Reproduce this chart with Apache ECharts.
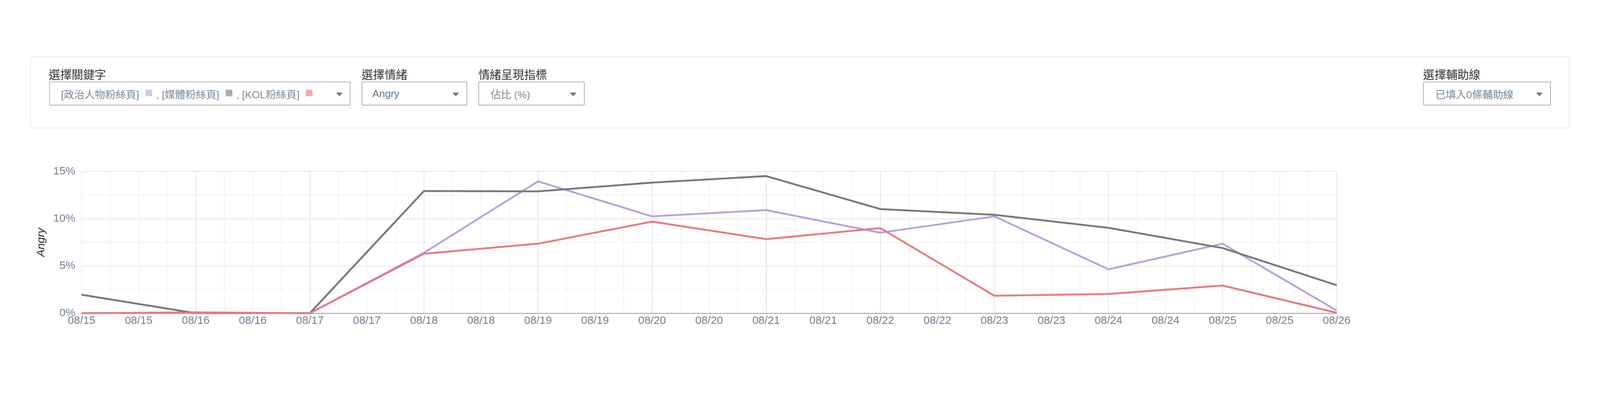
<!DOCTYPE html>
<html>
<head>
<meta charset="utf-8">
<script src="https://cdn.jsdelivr.net/npm/echarts@6/dist/echarts.min.js"></script>
<style>
  html, body { margin:0; padding:0; background:#fff; overflow:hidden; }
  body { font-family: 'Liberation Sans', 'Noto Sans CJK TC', sans-serif; }
  #wrap { position:absolute; left:0; top:0; width:4332px; height:1056px; transform-origin:0 0; }
  #chart { position:absolute; left:0; top:0; width:4332px; height:1056px; }
  #panel { position:absolute; left:81px; top:153px; width:4169px; height:195px; box-sizing:border-box;
           border:2px solid #e3e3e3; border-radius:6px; z-index:2; background:transparent; }
  .lbl { position:absolute; top:188px; font-size:31px; line-height:31px; color:#333; white-space:nowrap; z-index:3; }
  .box { position:absolute; top:221px; height:65px; box-sizing:border-box; border:2px solid #aaa; border-radius:4px;
         display:flex; align-items:center; font-size:28px; color:#7d8b9b; white-space:nowrap; z-index:3; background:#fff; }
  .arrow { position:absolute; top:28px; width:0; height:0; border-left:9px solid transparent; border-right:9px solid transparent;
           border-top:10px solid #6b7a8a; }
  .sq { display:inline-block; width:18px; height:18px; vertical-align:middle; margin:0 11px 0 17px; position:relative; top:-2px; }
</style>
</head>
<body>
<div id="wrap">
<div id="chart"></div>
<div id="panel"></div>

<div class="lbl" style="left:132px;">選擇關鍵字</div>
<div class="box" style="left:133px; width:816px; padding-left:30px;">
  <span>[政治人物粉絲頁]</span><span class="sq" style="background:#d6c6ef"></span><span>, [媒體粉絲頁]</span><span class="sq" style="background:#aaaaaa"></span><span>, [KOL粉絲頁]</span><span class="sq" style="background:#f2aab0"></span>
  <div class="arrow" style="left:775px;"></div>
</div>

<div class="lbl" style="left:979px;">選擇情緒</div>
<div class="box" style="left:979px; width:286px; padding-left:27px; color:#66768a;">
  <span>Angry</span>
  <div class="arrow" style="left:244px;"></div>
</div>

<div class="lbl" style="left:1295px;">情緒呈現指標</div>
<div class="box" style="left:1295px; width:288px; padding-left:31px;">
  <span>佔比 (%)</span>
  <div class="arrow" style="left:246px;"></div>
</div>

<div class="lbl" style="left:3853px;">選擇輔助線</div>
<div class="box" style="left:3853px; width:346px; padding-left:31px;">
  <span>已填入0條輔助線</span>
  <div class="arrow" style="left:304px;"></div>
</div>
</div>

<script>
// ---- data ----
const dates = ['08/15','08/16','08/17','08/18','08/19','08/20','08/21','08/22','08/23','08/24','08/25','08/26'];
const politicianFans = [0, 0.1, 0, 6.4, 13.96, 10.25, 10.92, 8.52, 10.25, 4.65, 7.36, 0.29];
const mediaFans      = [1.95, 0, 0, 12.94, 12.9, 13.83, 14.52, 11.03, 10.42, 9.04, 6.9, 2.96];
const kolFans        = [0, 0.05, 0, 6.3, 7.36, 9.7, 7.84, 9.01, 1.85, 2.04, 2.93, 0.05];
const seriesNames = ['[政治人物粉絲頁]', '[媒體粉絲頁]', '[KOL粉絲頁]'];
const yTickLabels = ['0%', '5%', '10%', '15%'];
const yAxisName = 'Angry';

// fit the 4332x1056 design into the actual viewport
const vw = window.innerWidth || 4332;
const scaleF = vw / 4332;
document.getElementById('wrap').style.transform = 'scale(' + scaleF + ')';

const HOURS_PER_DAY = 24;
function toPairs(arr) { return arr.map((v, i) => [i * HOURS_PER_DAY, v]); }

const chart = echarts.init(document.getElementById('chart'), null, { renderer: 'canvas' });
const axisFont = { fontFamily: 'Liberation Sans', fontSize: 30, color: '#6e7d8c' };

chart.setOption({
  animation: false,
  grid: { left: 221, top: 465, width: 3398, height: 384, containLabel: false, outerBoundsMode: 'none' },
  xAxis: {
    type: 'value',
    min: 0,
    max: (dates.length - 1) * HOURS_PER_DAY,
    interval: 12,
    axisLine: { show: true, lineStyle: { color: '#aaaaaa', width: 2.5 } },
    axisTick: { show: false },
    axisLabel: Object.assign({
      margin: 6,
      showMinLabel: true,
      showMaxLabel: true,
      formatter: v => dates[Math.floor(v / HOURS_PER_DAY)] || ''
    }, axisFont),
    splitLine: { show: true, showMinLine: false, lineStyle: { color: ['#f2f2f2', '#e4e4e4'], width: 2 } },
    minorTick: { show: false, splitNumber: 2 },
    minorSplitLine: { show: true, lineStyle: { color: '#f2f2f2', width: 2 } }
  },
  yAxis: {
    type: 'value',
    min: 0,
    max: 15,
    interval: 5,
    name: yAxisName,
    nameLocation: 'middle',
    nameGap: 94,
    nameTextStyle: { fontFamily: 'Liberation Sans', fontSize: 30, fontStyle: 'italic', color: '#222' },
    axisLine: { show: true, lineStyle: { color: '#ededed', width: 2 } },
    axisTick: { show: false },
    axisLabel: Object.assign({
      margin: 17,
      formatter: v => yTickLabels[Math.round(v / 5)] || (v + '%')
    }, axisFont),
    splitLine: { show: true, lineStyle: { color: '#e4e4e4', width: 2 } },
    minorTick: { show: false, splitNumber: 2 },
    minorSplitLine: { show: true, lineStyle: { color: '#f2f2f2', width: 2 } }
  },
  series: [
    { name: seriesNames[0], type: 'line', data: toPairs(politicianFans), showSymbol: false, symbol: 'none',
      lineStyle: { color: '#b99fe2', width: 5 }, itemStyle: { color: '#b99fe2' } },
    { name: seriesNames[1], type: 'line', data: toPairs(mediaFans), showSymbol: false, symbol: 'none',
      lineStyle: { color: '#777777', width: 5 }, itemStyle: { color: '#777777' } },
    { name: seriesNames[2], type: 'line', data: toPairs(kolFans), showSymbol: false, symbol: 'none',
      lineStyle: { color: '#e8787f', width: 5 }, itemStyle: { color: '#e8787f' } }
  ]
});
</script>
</body>
</html>
